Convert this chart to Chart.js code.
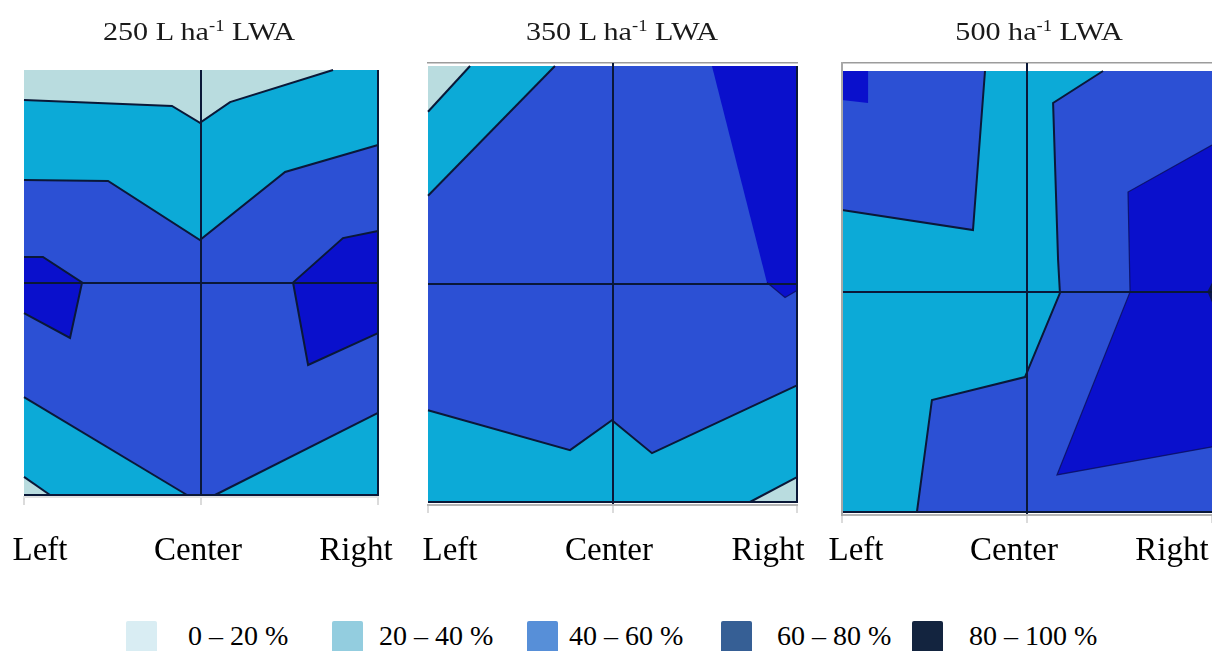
<!DOCTYPE html>
<html>
<head>
<meta charset="utf-8">
<script src="https://cdn.jsdelivr.net/npm/chart.js@4.4.1/dist/chart.umd.min.js"></script>
<style>
  html, body { margin: 0; padding: 0; background: #fff; width: 1212px; height: 651px; overflow: hidden; }
  body { position: relative; font-family: 'Liberation Serif', 'Times New Roman', serif; color: #1a1a1a; }
  canvas { position: absolute; top: 0; }
  .title { position: absolute; top: 19px; font-size: 26px; line-height: 26px; white-space: nowrap; transform: translateX(-50%) scaleX(1.16); }
  .title sup { font-size: 16px; vertical-align: 9px; line-height: 0; }
  .swatch { position: absolute; top: 621px; width: 31px; height: 34px; border-radius: 2px; }
  .band { position: absolute; top: 622px; font-size: 28px; line-height: 28px; white-space: nowrap; color: #000; }
</style>
</head>
<body>
<canvas id="c250" width="410" height="600" style="left:0px"></canvas>
<canvas id="c350" width="400" height="600" style="left:410px"></canvas>
<canvas id="c500" width="392" height="600" style="left:820px"></canvas>
<div id="titles"></div>
<div id="legend"></div>
<script>
// Spray coverage classes and the boom positions across the target field.
const bands = ['0 – 20 %', '20 – 40 %', '40 – 60 %', '60 – 80 %', '80 – 100 %'];
const positions = ['Left', 'Center', 'Right'];
const rates = ['250 L ha', '350 L ha', '500 ha'];

// Fill colours of the coverage classes in the maps, and of the legend swatches.
const fieldColors = ['#b9dcdf', '#0caad7', '#2c50d4', '#0a10cc', '#0c1650'];
const swatchColors = ['#d9edf3', '#93cddf', '#578fd8', '#365f95', '#13243f'];

// Field coordinates: x 0 = Left, 1 = Center, 2 = Right; y 0 = bottom edge, 2 = top edge.
// Each region: [coverage class, outline vertices]; regions are painted in order.
const regions250 = [
  [2, [[0, 0], [2, 0], [2, 2], [0, 2]]],
  [1, [[0, 2], [2, 2], [2, 1.647], [1.475, 1.52], [0.994, 1.2], [0.475, 1.478], [0, 1.482]]],
  [0, [[0, 2], [1.746, 2], [1.164, 1.849], [0.994, 1.751], [0.836, 1.831], [0, 1.859]]],
  [1, [[0, 0], [0, 0.461], [0.921, 0]]],
  [1, [[1.079, 0], [2, 0.386], [2, 0]]],
  [0, [[0, 0], [0, 0.085], [0.147, 0]]],
  [3, [[0, 1.12], [0.107, 1.12], [0.328, 1.0], [0.26, 0.739], [0, 0.856]]],
  [3, [[2, 1.242], [1.802, 1.209], [1.52, 1.0], [1.605, 0.612], [2, 0.762]]]
];
const isolines250 = [
  [[0, 1.859], [0.836, 1.831], [0.994, 1.751], [1.164, 1.849], [1.746, 2]],
  [[0, 1.482], [0.475, 1.478], [0.994, 1.2], [1.475, 1.52], [2, 1.647]],
  [[0, 0.461], [0.921, 0]],
  [[1.079, 0], [2, 0.386]],
  [[0, 0.085], [0.147, 0]],
  [[0, 1.12], [0.107, 1.12], [0.328, 1.0], [0.26, 0.739], [0, 0.856]],
  [[2, 1.242], [1.802, 1.209], [1.52, 1.0], [1.605, 0.612], [2, 0.762]],
  [[0, 0], [2, 0], [2, 2]]
];

const regions350 = [
  [2, [[0, 0], [2, 0], [2, 2], [0, 2]]],
  [1, [[0, 2], [0.688, 2], [0, 1.405]]],
  [0, [[0, 2], [0.228, 2], [0, 1.79]]],
  [3, [[1.539, 2], [2, 2], [2, 0.97], [1.935, 0.938], [1.837, 1.007]]],
  [1, [[0, 0], [0, 0.421], [0.77, 0.238], [0.997, 0.375], [1.214, 0.224], [2, 0.535], [2, 0]]],
  [0, [[1.745, 0], [2, 0.114], [2, 0]]]
];
const isolines350 = [
  [[0, 1.79], [0.228, 2]],
  [[0, 1.405], [0.688, 2]],
  [[0, 0.421], [0.77, 0.238], [0.997, 0.375], [1.214, 0.224], [2, 0.535]],
  [[1.745, 0], [2, 0.114]],
  [[0, 0], [2, 0], [2, 2]]
];
const edges350 = [
  [[1.837, 1.007], [1.935, 0.938], [2, 0.97]]
];

const regions500 = [
  [1, [[0, 0], [2, 0], [2, 2], [0, 2]]],
  [2, [[0, 2], [0.773, 2], [0.708, 1.279], [0, 1.37]]],
  [3, [[0, 2], [0.141, 2], [0.141, 1.855], [0, 1.868]]],
  [2, [[1.411, 2], [2, 2], [2, 0], [0.405, 0], [0.486, 0.508], [0.989, 0.612], [1.178, 0.993], [1.168, 1.143], [1.141, 1.855]]],
  [3, [[2, 1.664], [1.546, 1.451], [1.557, 0.998], [1.162, 0.168], [2, 0.295]]],
  [4, [[2, 1.04], [1.975, 1.0], [2, 0.95]]]
];
const isolines500 = [
  [[0.773, 2], [0.708, 1.279], [0, 1.37]],
  [[1.411, 2], [1.141, 1.855], [1.168, 1.143], [1.178, 0.993], [0.989, 0.612], [0.486, 0.508], [0.405, 0]],
  [[0, 0], [2, 0]]
];
const edges500 = [
  [[2, 1.664], [1.546, 1.451], [1.557, 0.998], [1.162, 0.168], [2, 0.295]]
];

const LINE = '#0a1838';
const SERIF = "'Liberation Serif', 'Times New Roman', serif";

// Fills each region dataset as a closed polygon through its scaled points,
// just before that dataset is drawn, so later regions paint over earlier ones.
const regionFill = {
  id: 'regionFill',
  beforeDatasetDraw(chart, args) {
    const ds = chart.data.datasets[args.index];
    if (!ds.areaColor) return;
    const pts = args.meta.data;
    const ctx = chart.ctx;
    ctx.save();
    ctx.beginPath();
    pts.forEach((p, i) => (i ? ctx.lineTo(p.x, p.y) : ctx.moveTo(p.x, p.y)));
    ctx.closePath();
    ctx.fillStyle = ds.areaColor;
    ctx.fill();
    ctx.restore();
  }
};

const toXY = pts => pts.map(([x, y]) => ({ x, y }));

// Fix an axis' thickness and stop it from pushing the plot area inwards.
const fixedSize = (prop, size) => s => {
  s[prop] = size;
  s.paddingLeft = s.paddingRight = s.paddingTop = s.paddingBottom = 0;
};

function buildMap(id, regions, isolines, edges, layout) {
  const datasets = [];
  regions.forEach(([band, pts]) => datasets.push({
    data: toXY(pts), areaColor: fieldColors[band],
    showLine: false, pointRadius: 0, pointHoverRadius: 0
  }));
  isolines.forEach(pts => datasets.push({
    data: toXY(pts), showLine: true, fill: false, tension: 0,
    borderColor: LINE, borderWidth: 2, pointRadius: 0, pointHoverRadius: 0, clip: 4
  }));
  edges.forEach(pts => datasets.push({
    data: toXY(pts), showLine: true, fill: false, tension: 0,
    borderColor: 'rgba(10,14,90,0.8)', borderWidth: 1.2, pointRadius: 0, pointHoverRadius: 0, clip: 4
  }));
  // first dataset is painted first
  datasets.forEach((d, i) => { d.order = datasets.length - i; });

  return new Chart(document.getElementById(id), {
    type: 'scatter',
    data: { datasets },
    plugins: [regionFill],
    options: {
      responsive: false,
      animation: false,
      events: [],
      layout: { autoPadding: false, padding: layout.padding },
      plugins: { legend: { display: false }, tooltip: { enabled: false } },
      scales: {
        x: {
          type: 'linear', position: 'bottom', min: 0, max: 2, weight: 0,
          afterBuildTicks: s => { s.ticks = positions.map((_, i) => ({ value: i })); },
          ticks: { display: false },
          grid: {
            z: 1,
            color: c => (c.tick && c.tick.value === 1 ? LINE : 'rgba(0,0,0,0)'),
            lineWidth: 2, tickColor: '#cfcfcf', tickLength: 8, tickWidth: 1.5
          },
          border: { display: true, z: 1, color: layout.axisColor, width: 2 },
          afterFit: fixedSize('height', 8)
        },
        names: {
          type: 'linear', position: 'bottom', min: layout.nameMin, max: layout.nameMax, weight: 1,
          afterBuildTicks: s => { s.ticks = positions.map((_, i) => ({ value: i })); },
          ticks: {
            callback: v => positions[v], autoSkip: false, maxRotation: 0,
            font: { family: SERIF, size: 33 }, color: '#000', padding: layout.namePad
          },
          grid: { display: false, drawTicks: false },
          border: { display: false },
          afterFit: fixedSize('height', 70)
        },
        y: {
          type: 'linear', position: 'left', min: layout.yMin, max: layout.yMax,
          afterBuildTicks: s => { s.ticks = [{ value: 1 }]; },
          ticks: { display: false },
          grid: { z: 1, color: LINE, lineWidth: 2, drawTicks: false },
          border: { display: layout.leftEdge, z: 1, color: '#a8a8a8', width: 2 },
          afterFit: fixedSize('width', 0)
        },
        top: {
          type: 'linear', position: 'top', display: layout.topEdge, min: 0, max: 2,
          ticks: { display: false },
          grid: { display: false, drawTicks: false },
          border: { display: true, color: '#9c9c9c', width: 1.5 },
          afterFit: fixedSize('height', 0)
        }
      }
    }
  });
}

buildMap('c250', regions250, isolines250, [], {
  padding: { left: 24, right: 32, top: 70, bottom: 25 },
  yMin: -0.0094, yMax: 2, nameMin: -0.101, nameMax: 2.139, namePad: 27,
  axisColor: '#e2e2e2', leftEdge: false, topEdge: false
});
buildMap('c350', regions350, isolines350, edges350, {
  padding: { left: 18, right: 13, top: 63, bottom: 17 },
  yMin: -0.0138, yMax: 2.0138, nameMin: -0.138, nameMax: 2.182, namePad: 19,
  axisColor: '#b4b4b4', leftEdge: false, topEdge: true
});
buildMap('c500', regions500, isolines500, edges500, {
  padding: { left: 22, right: 0, top: 63, bottom: 7 },
  yMin: -0.0136, yMax: 2.0363, nameMin: -0.0886, nameMax: 2.253, namePad: 9,
  axisColor: '#b4b4b4', leftEdge: true, topEdge: true
});

// Panel headings (application rate) and the coverage legend.
const titleCenters = [199, 622, 1039];
const titles = document.getElementById('titles');
rates.forEach((r, i) => {
  const el = document.createElement('div');
  el.className = 'title';
  el.style.left = titleCenters[i] + 'px';
  el.innerHTML = r + '<sup>-1</sup> LWA';
  titles.appendChild(el);
});

const swatchLeft = [126, 332, 527, 721, 912];
const textLeft = [188, 379, 569, 777, 969];
const legend = document.getElementById('legend');
bands.forEach((b, i) => {
  const sw = document.createElement('div');
  sw.className = 'swatch';
  sw.style.left = swatchLeft[i] + 'px';
  sw.style.background = swatchColors[i];
  legend.appendChild(sw);
  const tx = document.createElement('div');
  tx.className = 'band';
  tx.style.left = textLeft[i] + 'px';
  tx.textContent = b;
  legend.appendChild(tx);
});
</script>
</body>
</html>
